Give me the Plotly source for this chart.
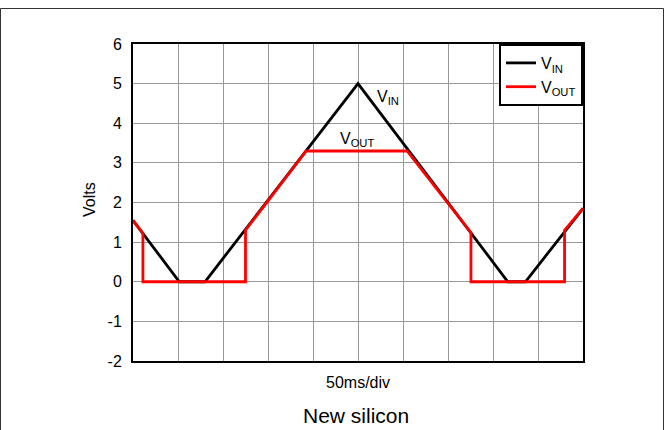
import plotly.graph_objects as go

# Time in divisions (50 ms/div), values in volts
t_in = [0, 1.03, 1.6, 5.0, 8.33, 8.72, 10]
v_in = [1.55, 0, 0, 5.0, 0, 0, 1.85]

t_out = [0, 0.22, 0.22, 2.5, 2.5, 3.85, 6.09, 7.51, 7.51, 9.59, 9.59, 10]
v_out = [1.55, 1.22, 0, 0, 1.3, 3.3, 3.3, 1.24, 0, 0, 1.3, 1.85]

y_ticks = [-2, -1, 0, 1, 2, 3, 4, 5, 6]
y_tick_labels = ["-2", "-1", "0", "1", "2", "3", "4", "5", "6"]

FONT = "Liberation Sans, Arial, sans-serif"

fig = go.Figure()
fig.add_trace(go.Scatter(x=t_in, y=v_in, mode="lines", name="V<sub>IN</sub>",
                         line=dict(color="black", width=2.8)))
fig.add_trace(go.Scatter(x=t_out, y=v_out, mode="lines", name="V<sub>OUT</sub>",
                         line=dict(color="#ff0000", width=2.8)))

L, R, T, B = 133, 583, 44, 361
W, H = R - L, B - T

def px(x):
    return (x - L) / W

def py(y):
    return (B - y) / H

fig.update_layout(
    width=666, height=430,
    margin=dict(l=L, r=666 - R, t=T, b=430 - B),
    paper_bgcolor="white", plot_bgcolor="white",
    font=dict(family=FONT, size=16, color="black"),
    showlegend=True,
    legend=dict(x=1, y=1, xanchor="right", yanchor="top",
                bgcolor="white", bordercolor="black", borderwidth=2,
                font=dict(size=16), itemwidth=30, tracegroupgap=0),
    xaxis=dict(range=[0, 10], dtick=1, showticklabels=False, ticks="",
               showgrid=True, gridcolor="#999999", gridwidth=1,
               showline=True, linecolor="black", linewidth=2, mirror=True,
               zeroline=False, fixedrange=True),
    yaxis=dict(range=[-2, 6], tickvals=y_ticks, ticktext=y_tick_labels, ticks="",
               showgrid=True, gridcolor="#999999", gridwidth=1,
               showline=True, linecolor="black", linewidth=2, mirror=True,
               zeroline=False, tickfont=dict(size=16), ticklabelstandoff=6,
               fixedrange=True),
    shapes=[dict(type="rect", xref="paper", yref="paper",
                 x0=px(0.5), x1=px(663.5), y0=py(445), y1=py(8.5),
                 line=dict(color="#333333", width=1), layer="below")],
    annotations=[
        dict(text="V<sub>IN</sub>", x=5.67, y=4.64, xref="x", yref="y",
             showarrow=False, font=dict(size=16)),
        dict(text="V<sub>OUT</sub>", x=4.98, y=3.6, xref="x", yref="y",
             showarrow=False, font=dict(size=16)),
        dict(text="Volts", x=px(89), y=py(200), xref="paper", yref="paper",
             xanchor="center", yanchor="middle",
             textangle=-90, showarrow=False, font=dict(size=16)),
        dict(text="50ms/div", x=0.5, y=py(382), xref="paper", yref="paper",
             xanchor="center", yanchor="middle",
             showarrow=False, font=dict(size=16)),
        dict(text="New silicon", x=px(356), y=py(415), xref="paper", yref="paper",
             xanchor="center", yanchor="middle",
             showarrow=False, font=dict(size=21)),
    ],
)

fig.write_html("out.html", config={"displayModeBar": False},
               post_script="document.body.style.margin='0';")
